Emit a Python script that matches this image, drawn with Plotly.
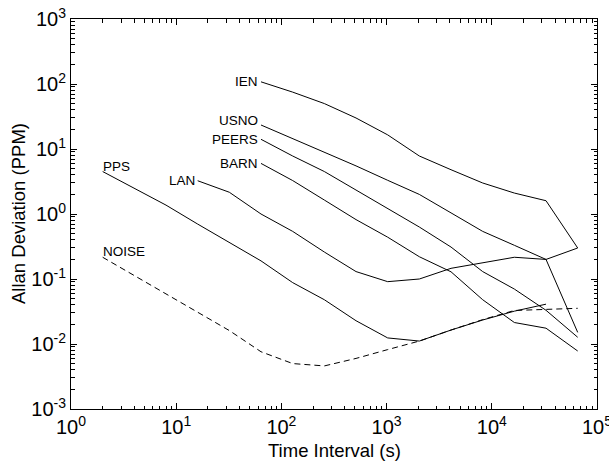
import math
import plotly.graph_objects as go

# ---- data ----
tau = [2 ** k for k in range(1, 17)]  # 2 .. 65536 s

pps_x = tau[0:15]
pps_y = [4.5, 2.45, 1.37, 0.70, 0.366, 0.19, 0.088, 0.048, 0.0228, 0.0124,
         0.0111, 0.0164, 0.0234, 0.032, 0.041]

noise_x = tau[0:16]
noise_y = [0.216, 0.113, 0.059, 0.0308, 0.0161, 0.0076, 0.0050, 0.0046, 0.0060,
           0.0082, 0.0111, 0.0164, 0.0237, 0.0328, 0.034, 0.0354]

lan_x = tau[3:16]
lan_y = [3.25, 2.16, 1.0, 0.54, 0.26, 0.13, 0.091, 0.10, 0.146, 0.178, 0.216, 0.20, 0.30]

barn_x = tau[5:16]
barn_y = [6.0, 3.27, 1.64, 0.82, 0.44, 0.22, 0.129, 0.048, 0.0214, 0.0175, 0.0078]

peers_x = tau[5:16]
peers_y = [14.1, 7.8, 4.5, 2.34, 1.22, 0.63, 0.31, 0.13, 0.070, 0.033, 0.0127]

usno_x = tau[5:16]
usno_y = [23.4, 14.5, 8.9, 5.5, 3.3, 2.0, 1.04, 0.54, 0.33, 0.20, 0.0151]

ien_x = tau[5:16]
ien_y = [108, 75, 50, 30, 16.5, 7.8, 4.8, 3.0, 2.1, 1.6, 0.30]

x_ticks = [1, 10, 100, 1000, 10000, 100000]
x_ticktext = ["10<sup>0</sup>", "10<sup>1</sup>", "10<sup>2</sup>",
              "10<sup>3</sup>", "10<sup>4</sup>", "10<sup>5</sup>"]
y_ticks = [0.001, 0.01, 0.1, 1, 10, 100, 1000]
y_ticktext = ["10<sup>-3</sup>", "10<sup>-2</sup>", "10<sup>-1</sup>", "10<sup>0</sup>",
              "10<sup>1</sup>", "10<sup>2</sup>", "10<sup>3</sup>"]

FONT = "Liberation Sans, Arial, Helvetica, sans-serif"

series = [
    # name, x, y, dash, label anchor, yshift
    ("PPS", pps_x, pps_y, "solid", "left", 5),
    ("NOISE", noise_x, noise_y, "6px,4px", "left", 6),
    ("LAN", lan_x, lan_y, "solid", "right", 0),
    ("BARN", barn_x, barn_y, "solid", "right", 0),
    ("PEERS", peers_x, peers_y, "solid", "right", 0),
    ("USNO", usno_x, usno_y, "solid", "right", 5),
    ("IEN", ien_x, ien_y, "solid", "right", 0),
]

fig = go.Figure()
annotations = []
for name, xs, ys, dash, anchor, ysh in series:
    fig.add_trace(go.Scatter(x=xs, y=ys, mode="lines", name=name,
                             line=dict(color="black", width=1, dash=dash),
                             showlegend=False, hoverinfo="skip"))
    annotations.append(dict(
        x=math.log10(xs[0]), y=math.log10(ys[0]), xref="x", yref="y",
        text=name, showarrow=False,
        xanchor=anchor, yanchor="middle",
        xshift=(-1 if anchor == "right" else -2), yshift=ysh,
        font=dict(family=FONT, size=13.5, color="black")))

# axis titles as paper-positioned text
annotations.append(dict(x=0.5, y=0, xref="paper", yref="paper", yshift=-29,
                        text="Time Interval (s)", showarrow=False,
                        xanchor="center", yanchor="top",
                        font=dict(family=FONT, size=18.5, color="black")))
annotations.append(dict(x=0, y=0.5, xref="paper", yref="paper", xshift=-53,
                        text="Allan Deviation (PPM)", showarrow=False, textangle=-90,
                        xanchor="center", yanchor="middle",
                        font=dict(family=FONT, size=18.5, color="black")))

axis_common = dict(
    type="log", showgrid=False, zeroline=False, automargin=False,
    showline=True, linecolor="black", linewidth=1, mirror="allticks",
    ticks="inside", ticklen=6, tickwidth=1, tickcolor="black",
    minor=dict(ticks="inside", ticklen=3.5, tickwidth=1, tickcolor="black",
               dtick="D1", showgrid=False),
    tickfont=dict(family=FONT, size=20, color="black"),
    ticklabeloverflow="allow",
)

fig.update_xaxes(**axis_common, range=[0, 5], tickmode="array",
                 tickvals=x_ticks, ticktext=x_ticktext)
fig.update_yaxes(**axis_common, range=[-3, 3], tickmode="array",
                 tickvals=y_ticks, ticktext=y_ticktext)

fig.update_layout(
    width=609, height=461,
    margin=dict(l=71, r=12, t=19, b=52),
    paper_bgcolor="white", plot_bgcolor="white",
    annotations=annotations,
    font=dict(family=FONT, color="black"),
)

fig.write_html("out.html", config={"displayModeBar": False},
               post_script="document.body.style.margin='0';document.body.style.overflow='hidden';")
